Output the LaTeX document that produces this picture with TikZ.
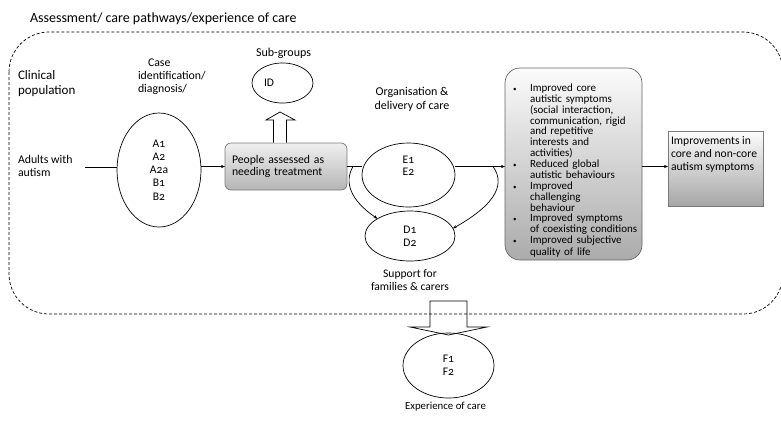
\documentclass[tikz,border=0pt]{standalone}
\usepackage{fontspec}
\setmainfont{Carlito}[Numbers=OldStyle]
\usetikzlibrary{shapes.geometric,arrows.meta}

\newcommand\fsz[2]{\fontsize{#1}{#2}\selectfont}
\newcommand\bul{\hangindent=17pt\hangafter=1 \makebox[17pt][l]{\fsz{7}{7}\textbullet}}
\definecolor{boxedge}{HTML}{7A7A7A}

\begin{document}
\begin{tikzpicture}[x=1pt,y=-1pt,
  every node/.style={inner sep=0pt, outer sep=0pt},
  lbl/.style={font=\fsz{11.6}{13.5}, align=center},
  oval/.style={ellipse, draw, line width=0.7pt, font=\fsz{11.6}{13}, align=center},
  link/.style={line width=0.7pt},
  arr/.style={link, -{Stealth[length=4pt,width=3.2pt]}},
  boundary/.style={line width=0.7pt, dash pattern=on 3pt off 2pt, rounded corners=40pt},
  fatarrow/.style={draw, line width=0.7pt, line join=miter},
]
\useasboundingbox (0,0) rectangle (781,424);

% outer dashed frame
\draw[boundary] (9,32) rectangle (783,314);

% headings and side labels
\node[anchor=west, font=\fsz{14}{16}] (title) at (30,19) {Assessment/ care pathways/experience of care};
\node[anchor=west, align=left, font=\fsz{13}{15.5}] (clin) at (18,83.5) {Clinical\\population};
\node[anchor=west, align=left, font=\fsz{11.8}{13}] (adults) at (18,166) {Adults with\\autism};
\node[anchor=west, align=left, font=\fsz{11.8}{13}] (case) at (138,77) {\hspace*{10pt}Case\\identification/\\diagnosis/};
\node[lbl, font=\fsz{12}{14}] (sub) at (283.5,53) {Sub-groups};
\node[lbl, font=\fsz{12}{13.5}] (org) at (412,99.5) {Organisation \&\\delivery of care};
\node[lbl] (supp) at (410,280) {Support for\\families \& carers};
\node[lbl, font=\fsz{10.8}{13}] (exp) at (445.5,407) {Experience of care};

% ovals
\node[oval, minimum width=84pt, minimum height=114pt, font=\fsz{11.6}{13.25}] (A) at (159,170) {A1\\A2\\A2a\\B1\\B2};
\node[oval, minimum width=61pt, minimum height=40pt, text width=37pt, align=left] (ID) at (282.5,83) {ID};
\node[oval, minimum width=93pt, minimum height=64pt] (E) at (408.5,175) {};
\node[lbl, font=\fsz{11.6}{12.5}] (Etxt) at (408.5,166) {E1\\E2};
\node[oval, minimum width=90pt, minimum height=50pt] (D) at (410,236) {D1\\D2};
\node[oval, minimum width=91pt, minimum height=65pt] (F) at (448.5,365.5) {F1\\F2};

% shaded boxes
\node[draw=boxedge, line width=0.7pt, rounded corners=6pt,
      top color=gray!12, bottom color=gray!58,
      minimum width=122pt, minimum height=47pt,
      text width=108pt, align=left, font=\fsz{11.7}{12.7}] (P) at (286,166.5)
      {People assessed as\\needing treatment};

\node[draw=gray!80!black, line width=0.7pt, rounded corners=15pt,
      top color=gray!3, bottom color=gray!90!black!60,
      minimum width=137pt, minimum height=192pt] (B) at (573.5,164) {};
\node[anchor=north west, text width=150pt, font=\fsz{11}{10.87}] (Btxt) at (513,83.8)
  {\setlength\lineskiplimit{-20pt}\setlength\parindent{0pt}\setlength\parskip{0pt}%
   \hyphenpenalty=10000
   \bul Improved core\newline
   autistic symptoms\newline
   (social interaction,\newline
   communication, rigid\newline
   and repetitive\newline
   interests and\newline
   activities)\par
   \bul Reduced global\newline
   autistic behaviours\par
   \bul Improved\newline
   challenging\newline
   behaviour\par
   \bul Improved symptoms\newline
   of coexisting conditions\par
   \bul Improved subjective\par
   \vskip1.5pt\hspace*{17pt}quality of life\par};

\node[draw=boxedge, line width=0.7pt,
      top color=gray!2, bottom color=gray!70,
      minimum width=95pt, minimum height=75pt] (R) at (715.5,168.5) {};
\node[anchor=west, align=left, font=\fsz{11.6}{12.6}] (Rtxt) at (671,154.5)
  {Improvements in\\core and non-core\\autism symptoms};

% flow connectors
\coordinate (a0) at (85,167);
\draw[link] (a0) -- (a0 -| A.west);
\draw[arr] (A.east |- P.west) -- (P.west);
\draw[link] (P.east) -- (P.east -| E.west);
\draw[arr] (P.east -| E.east) -- (P.east -| B.west);
\draw[arr] (B.east |- P.east) -- (R.west |- P.east);

\coordinate (s1) at (353,166.5);
\coordinate (s2) at (493,166.5);
\draw[arr] (s1) .. controls (344,182) and (350,200) .. (D.152);
\draw[arr] (s2) .. controls (504,182) and (500,202) .. (D.10);

% block arrows
\draw[fatarrow, fill=white] (273.5,142.5) -- (273.5,120) -- (266,120) -- (280,112)
  -- (295,120) -- (286.5,120) -- (286.5,142.5);
\draw[fatarrow] (430,327) -- (430,301) -- (467,301) -- (467,327) -- (487,327)
  -- (448.5,335) -- (410,327) -- cycle;
\end{tikzpicture}
\end{document}
